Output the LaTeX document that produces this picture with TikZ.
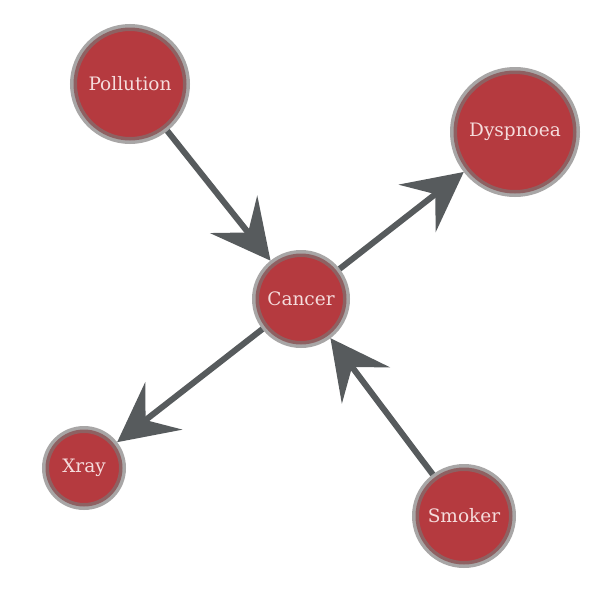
\documentclass[tikz,border=0pt]{standalone}
\usepackage{fontspec}
\setmainfont{DejaVu Serif}
\usetikzlibrary{arrows.meta}
\definecolor{nodered}{HTML}{B53A3F}
\definecolor{ringgray}{HTML}{7A7676}
\definecolor{edgegray}{HTML}{575B5D}
\definecolor{txtpink}{HTML}{F5DCDC}
\tikzset{
  var/.style={circle, fill=nodered, draw=ringgray, draw opacity=0.65, line width=7pt,
    text=txtpink, font=\fontsize{18.5}{22}\selectfont, inner sep=0pt},
  link/.style={draw=edgegray, line width=6pt,
    -{Stealth[length=59pt, width=60pt, inset=23pt]}}
}
\begin{document}
\begin{tikzpicture}[x=1pt,y=-1pt]
\useasboundingbox (0,0) rectangle (600,600);
\node[var, minimum size=113pt] (pol) at (130,84) {Pollution};
\node[var, minimum size=123pt] (dys) at (515,132) {Dyspnoea};
\node[var, minimum size=91pt] (can) at (301,299) {Cancer};
\node[var, minimum size=77pt] (xr) at (84,468) {Xray};
\node[var, minimum size=97pt] (smo) at (464,516) {Smoker};
\draw[link] (pol) -- (can);
\draw[link] (can) -- (dys);
\draw[link] (can) -- (xr);
\draw[link] (smo) -- (can);
\end{tikzpicture}
\end{document}
